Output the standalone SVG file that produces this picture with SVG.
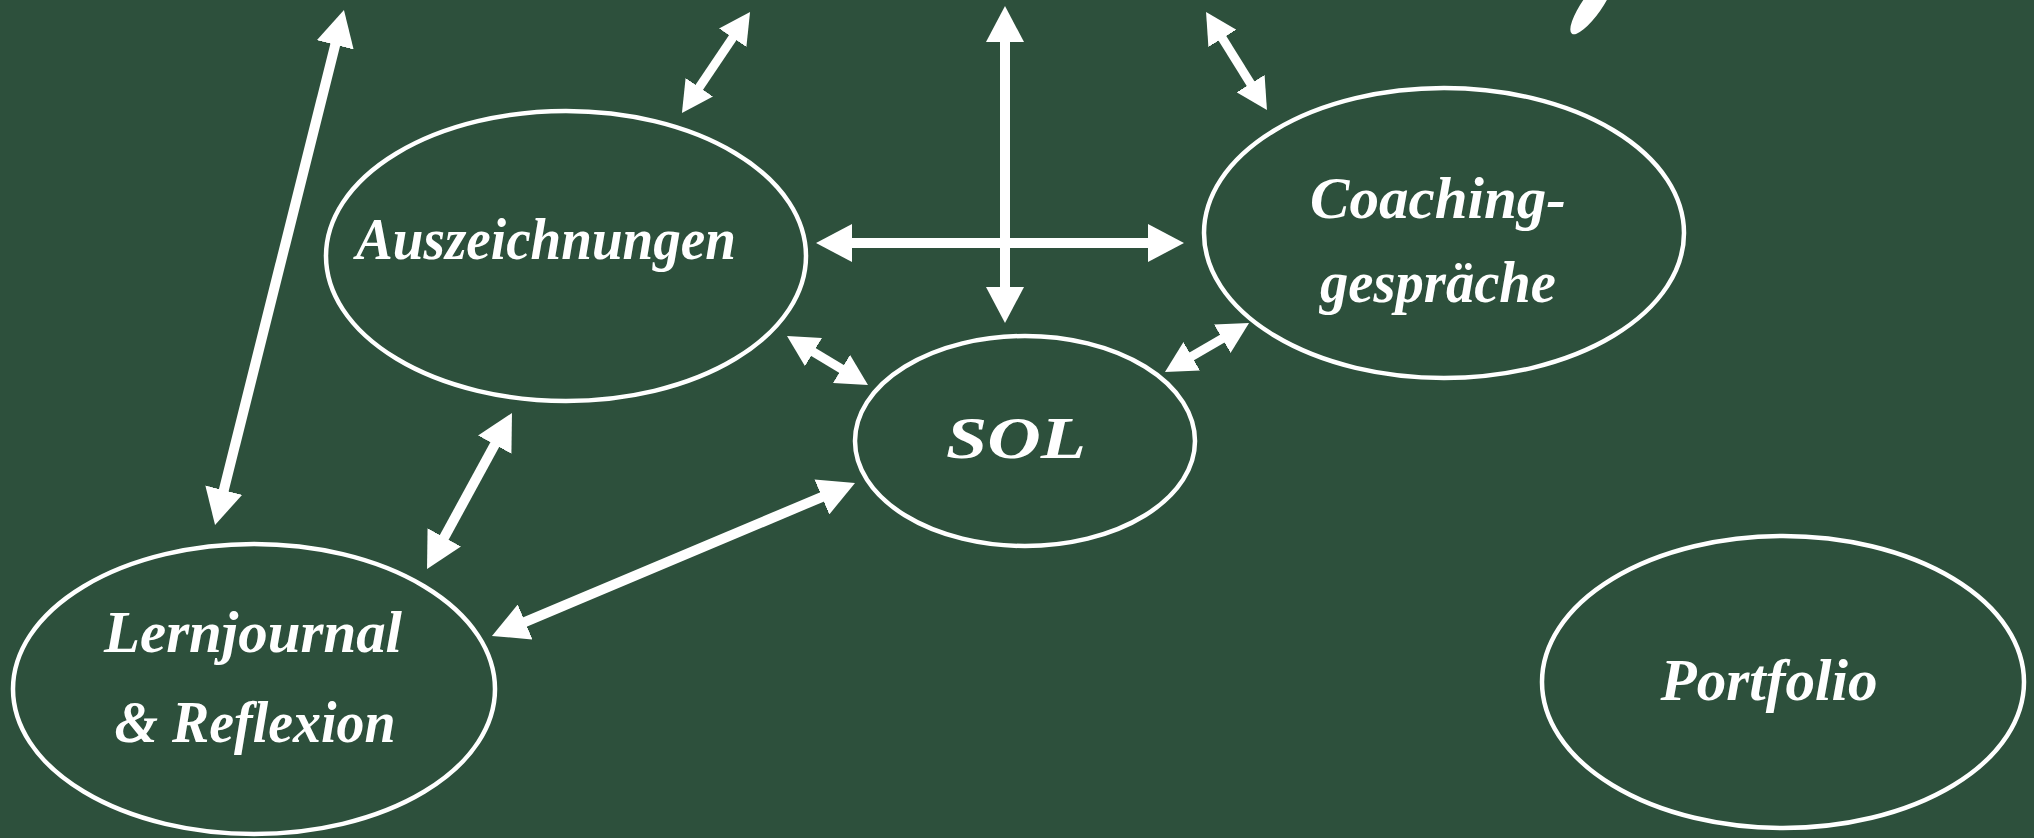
<svg xmlns="http://www.w3.org/2000/svg" width="2034" height="838" viewBox="0 0 2034 838">
<style>
.node ellipse{fill:none;stroke:#fff;stroke-width:4.5}
.node text{fill:#fff;font-family:"Liberation Serif","DejaVu Serif",serif;font-style:italic;font-weight:bold;font-size:60px;text-anchor:middle}
.conn line{stroke:#fff;fill:none}
.big{stroke-width:10;marker-start:url(#hb);marker-end:url(#hb)}
.small{stroke-width:9;marker-start:url(#hs);marker-end:url(#hs)}
</style>
<defs>
<marker id="hb" markerUnits="userSpaceOnUse" viewBox="0 0 36 38" markerWidth="36" markerHeight="38" refX="16" refY="19" orient="auto-start-reverse"><path d="M0,0 L36,19 L0,38 Z" fill="#fff"/></marker>
<marker id="hs" markerUnits="userSpaceOnUse" viewBox="0 0 31 33" markerWidth="31" markerHeight="33" refX="15" refY="16.5" orient="auto-start-reverse"><path d="M0,0 L31,16.5 L0,33 Z" fill="#fff"/></marker>
</defs>
<rect width="2034" height="838" fill="#2d503c"/>
<ellipse cx="1592" cy="5" rx="35" ry="10" transform="rotate(-55 1592 5)" fill="#fff"/>
<g id="connectors" class="conn">
<line class="big" x1="339.1" y1="29.4" x2="219.9" y2="505.6"/>
<line class="small" x1="741.1" y1="25.3" x2="690.9" y2="99.7"/>
<line class="big" x1="1005" y1="26" x2="1005" y2="303"/>
<line class="big" x1="836" y1="243" x2="1164" y2="243"/>
<line class="small" x1="1214.5" y1="25.6" x2="1258.5" y2="96.4"/>
<line class="small" x1="800.7" y1="344.3" x2="854.3" y2="376.7"/>
<line class="small" x1="1178.8" y1="363.9" x2="1235.2" y2="331.1"/>
<line class="big" x1="502.4" y1="430.6" x2="436.6" y2="551.4"/>
<line class="big" x1="510.4" y1="628.2" x2="836.6" y2="490.8"/>
</g>
<g id="auszeichnungen" class="node">
<ellipse cx="566" cy="256" rx="240" ry="145"/>
<text x="546" y="259" textLength="380" lengthAdjust="spacingAndGlyphs">Auszeichnungen</text>
</g>
<g id="coaching" class="node">
<ellipse cx="1444" cy="233" rx="240" ry="145"/>
<text x="1438" y="218" textLength="256" lengthAdjust="spacingAndGlyphs">Coaching-</text>
<text x="1438" y="302" textLength="236" lengthAdjust="spacingAndGlyphs">gespräche</text>
</g>
<g id="sol" class="node">
<ellipse cx="1025" cy="441" rx="170" ry="105"/>
<text x="1016" y="458" textLength="140" lengthAdjust="spacingAndGlyphs">SOL</text>
</g>
<g id="lernjournal" class="node">
<ellipse cx="254" cy="689" rx="241" ry="145"/>
<text x="253" y="652" textLength="298" lengthAdjust="spacingAndGlyphs">Lernjournal</text>
<text x="255" y="742" textLength="281" lengthAdjust="spacingAndGlyphs">&amp; Reflexion</text>
</g>
<g id="portfolio" class="node">
<ellipse cx="1783" cy="682" rx="241" ry="146"/>
<text x="1769" y="700" textLength="217" lengthAdjust="spacingAndGlyphs">Portfolio</text>
</g>
</svg>
